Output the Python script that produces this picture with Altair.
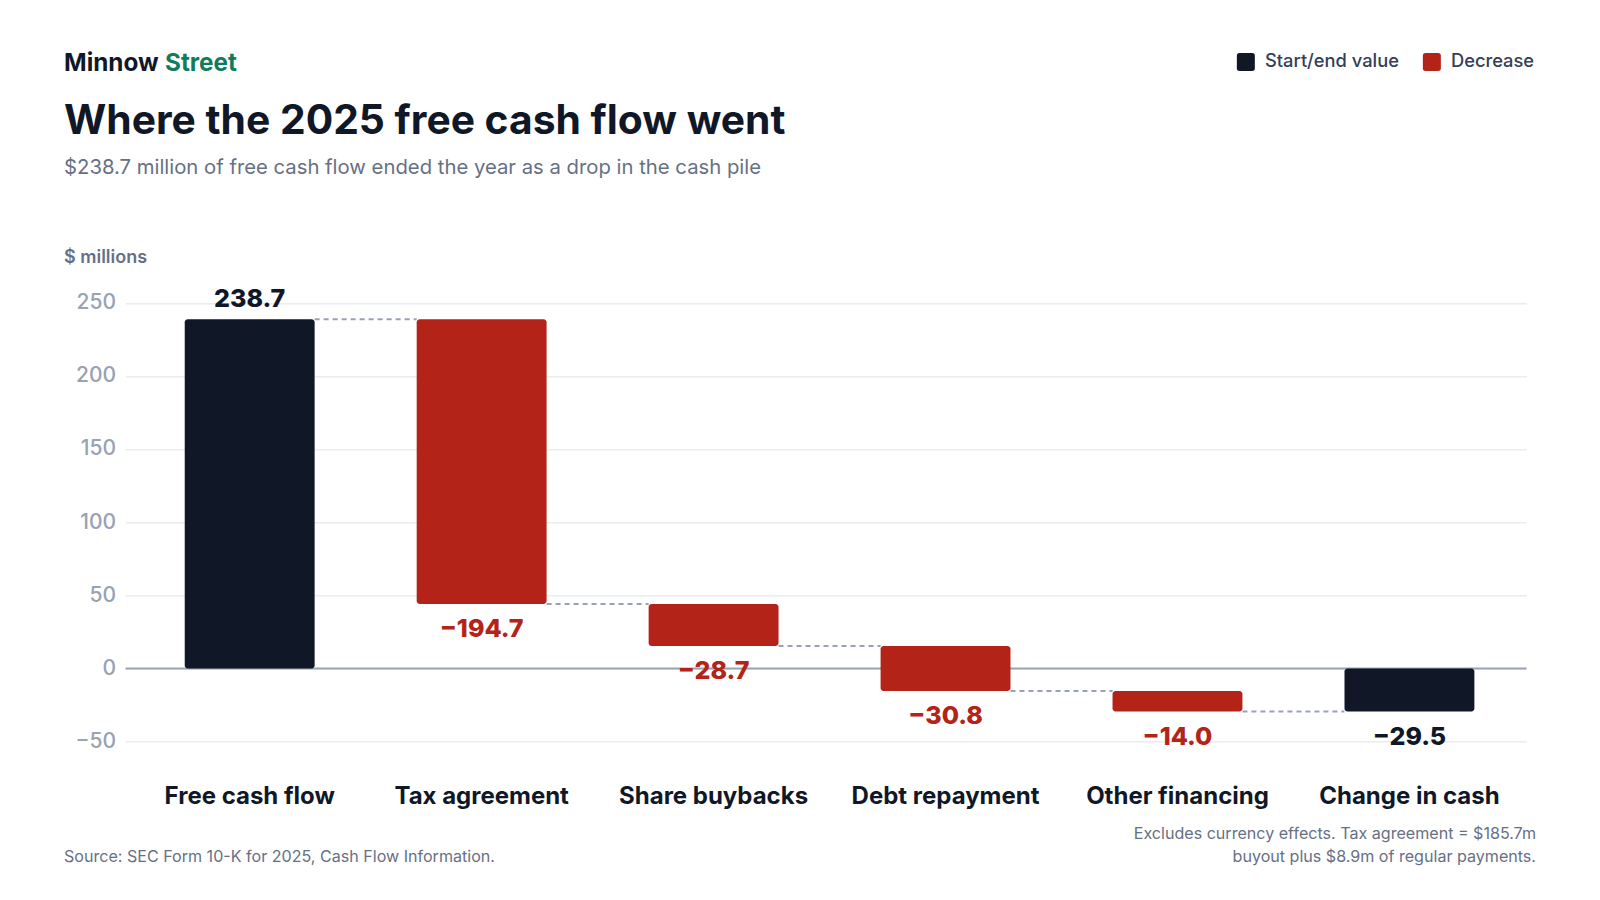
import altair as alt
import pandas as pd

# ---- data ----
categories = ["Free cash flow", "Tax agreement", "Share buybacks",
              "Debt repayment", "Other financing", "Change in cash"]
amounts = [238.7, -194.7, -28.7, -30.8, -14.0, -29.5]
kinds = ["Start/end value", "Decrease", "Decrease", "Decrease", "Decrease", "Start/end value"]
y_ticks = [-50, 0, 50, 100, 150, 200, 250]
legend_items = ["Start/end value", "Decrease"]

DARK = "#101828"
RED = "#b42318"
GREEN = "#117c5b"
GRAY5 = "#667085"
GRAY4 = "#98a2b3"
FONT = "Inter"

rows = []
running = 0.0
for c, a, k in zip(categories, amounts, kinds):
    if k == "Start/end value":
        start, end = 0.0, a
    else:
        start, end = running, running + a
    running = end
    rows.append(dict(cat=c, amount=a, kind=k, start=start, end=end,
                     low=min(start, end), high=max(start, end),
                     label=f"{a:.1f}".replace("-", "\u2212")))
df = pd.DataFrame(rows)

conn = pd.DataFrame([dict(cat=categories[i], next=categories[i + 1], level=rows[i]["end"])
                     for i in range(len(categories) - 1)])

# ---- layout constants (plot area) ----
W = 1401
PX = 1.4627
YMIN, YMAX = -62, 262
H = (YMAX - YMIN) * PX
OX = 125.5
OY = 668.4 - YMAX * PX

x_scale = alt.Scale(domain=categories, paddingInner=0.44, paddingOuter=0.24, align=0.532)
x_axis = alt.Axis(title=None, labelAngle=0, labelFont=FONT, labelFontSize=24,
                  labelFontWeight=700, labelColor=DARK, labelPadding=25,
                  labelLimit=0, domain=False, ticks=False, grid=False)
y_scale = alt.Scale(domain=[YMIN, YMAX], nice=False, zero=False)
y_axis = alt.Axis(title=None, values=y_ticks, grid=True, gridColor="#eaecf0",
                  gridWidth=1.5, domain=False, ticks=False, labelPadding=10,
                  labelFont=FONT, labelFontSize=21, labelFontWeight=500,
                  labelColor=GRAY4)


def X(field="cat:N", **kw):
    return alt.X(field, sort=categories, scale=x_scale, axis=x_axis, **kw)


def Y(field):
    return alt.Y(field, scale=y_scale, axis=y_axis)


ROUNDED = ("M-0.7,-1L0.7,-1Q1,-1,1,-0.7L1,0.7Q1,1,0.7,1L-0.7,1"
           "Q-1,1,-1,0.7L-1,-0.7Q-1,-1,-0.7,-1Z")

zero = alt.Chart(pd.DataFrame({"v": [0]})).mark_rule(
    color=GRAY4, strokeWidth=2).encode(y=Y("v:Q"))

connectors = alt.Chart(conn).mark_rule(
    color=GRAY4, strokeWidth=2, strokeDash=[5, 4]).encode(
    x=X("cat:N", bandPosition=1),
    x2=alt.X2("next:N", bandPosition=0),
    y=Y("level:Q"))

bars = alt.Chart(df).mark_bar(cornerRadius=3).encode(
    x=X(),
    y=Y("low:Q"),
    y2="high:Q",
    color=alt.Color("kind:N",
                    scale=alt.Scale(domain=legend_items, range=[DARK, RED]),
                    legend=alt.Legend(title=None, orient="none",
                                      legendX=1236.7 - OX, legendY=52.5 - OY,
                                      direction="horizontal",
                                      symbolType=ROUNDED, symbolSize=324,
                                      symbolStrokeWidth=0, symbolOpacity=1,
                                      labelFont=FONT, labelFontSize=18.3,
                                      labelFontWeight=500, labelColor="#344054",
                                      labelOffset=10, columnPadding=23,
                                      labelLimit=0, padding=0, offset=0)),
)

label_color = alt.condition(alt.datum.kind == "Decrease", alt.value(RED), alt.value(DARK))

pos_labels = alt.Chart(df).transform_filter("datum.amount > 0").mark_text(
    dy=-12, baseline="alphabetic", fontSize=25, fontWeight=800, font=FONT).encode(
    x=X(), y=Y("high:Q"), text="label:N", color=label_color)

neg_labels = alt.Chart(df).transform_filter("datum.amount < 0").mark_text(
    dy=33, baseline="alphabetic", fontSize=25, fontWeight=800, font=FONT).encode(
    x=X(), y=Y("low:Q"), text="label:N", color=label_color)


def note(text, x, y, size, color, weight=400, align="left"):
    return alt.Chart(pd.DataFrame({"t": [text]})).mark_text(
        align=align, baseline="alphabetic", font=FONT, fontSize=size,
        fontWeight=weight, color=color).encode(
        text="t:N", x=alt.value(x - OX), y=alt.value(y - OY))


texts = [
    note("Minnow", 64, 71.5, 24.3, DARK, 700),
    note("Street", 165, 71.5, 24.3, GREEN, 700),
    note("Where the 2025 free cash flow went", 64, 134, 40.8, DARK, 700),
    note("$238.7 million of free cash flow ended the year as a drop in the cash pile",
         64, 174.5, 20.3, GRAY5, 400),
    note("$ millions", 64, 263, 18, GRAY5, 600),
    note("Source: SEC Form 10-K for 2025, Cash Flow Information.", 64, 862, 16.1, GRAY5),
    note("Excludes currency effects. Tax agreement = $185.7m", 1536, 839, 16.1, GRAY5,
         align="right"),
    note("buyout plus $8.9m of regular payments.", 1536, 862, 16.1, GRAY5, align="right"),
]

chart = alt.layer(zero, connectors, bars, pos_labels, neg_labels, *texts).properties(
    width=W, height=H,
    padding={"left": OX - 8, "top": OY - 8, "right": 1592 - OX - W, "bottom": 120},
    autosize=alt.AutoSizeParams(type="none"),
    background="white",
).configure(font=FONT).configure_view(stroke=None)

chart.save("out.html", embed_options={"renderer": "svg", "actions": False})
